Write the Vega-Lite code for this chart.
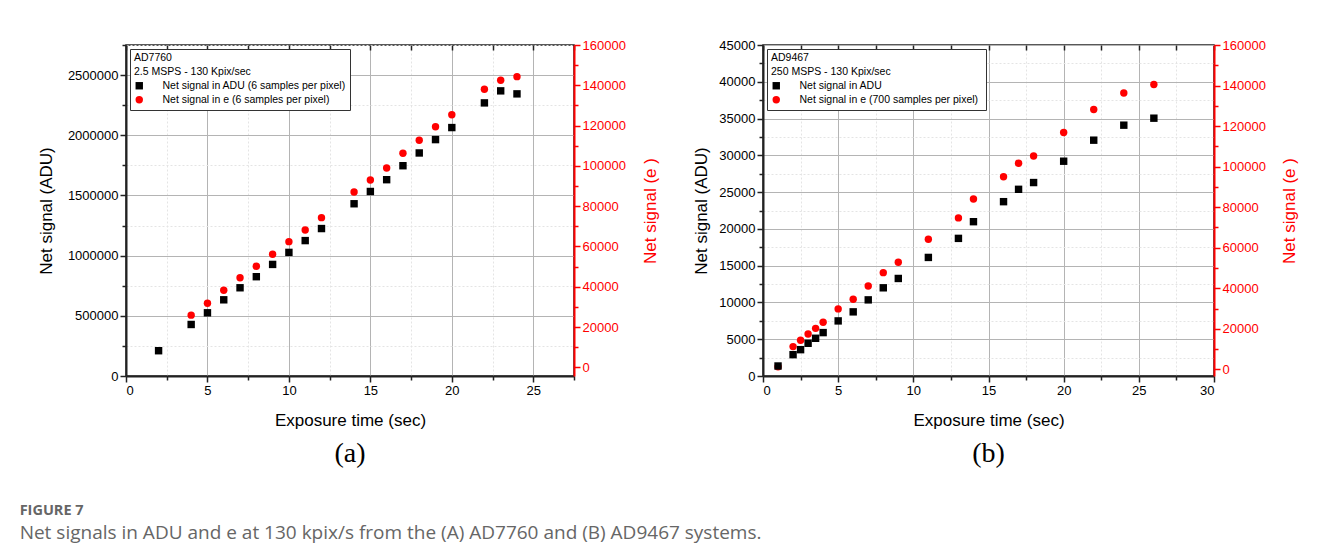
{
  "$schema": "https://vega.github.io/schema/vega-lite/v6.json",
  "padding": {"left": 19, "top": 38, "right": 0, "bottom": 0},
  "background": "white",
  "config": {
    "font": "Liberation Sans",
    "view": {"stroke": "#222222", "strokeWidth": 1.5},
    "axis": {"labelFontSize": 13, "titleFontSize": 17, "titleFontWeight": "normal", "labelColor": "black", "titleColor": "black", "domainColor": "#222222", "domainWidth": 2, "tickColor": "#222222", "tickWidth": 1.5},
    "legend": {"strokeColor": "#333333", "fillColor": "white", "padding": 4, "cornerRadius": 0, "titleFontWeight": "normal", "titleFontSize": 10.5, "titleColor": "black", "labelFontSize": 10.5, "labelColor": "black", "labelLimit": 400, "titleLimit": 400, "symbolSize": 55, "labelOffset": 18, "rowPadding": 3, "titlePadding": 3, "titleLineHeight": 14, "offset": 4, "symbolStrokeWidth": 0}
  },
  "title": {"text": "FIGURE 7", "subtitle": "Net signals in ADU and e at 130 kpix/s from the (A) AD7760 and (B) AD9467 systems.", "orient": "bottom", "anchor": "start", "font": "Open Sans", "fontSize": 14.5, "fontWeight": "bold", "color": "#666666", "subtitleFont": "Open Sans", "subtitleFontSize": 19, "subtitleColor": "#666666", "offset": 35, "dx": -17, "subtitlePadding": 6, "limit": 1200},
  "datasets": {
    "left": [
      {"t": 2, "series": "Net signal in ADU (6 samples per pixel)", "v": 210000},
      {"t": 4, "series": "Net signal in ADU (6 samples per pixel)", "v": 428000},
      {"t": 5, "series": "Net signal in ADU (6 samples per pixel)", "v": 525000},
      {"t": 6, "series": "Net signal in ADU (6 samples per pixel)", "v": 633000},
      {"t": 7, "series": "Net signal in ADU (6 samples per pixel)", "v": 733000},
      {"t": 8, "series": "Net signal in ADU (6 samples per pixel)", "v": 825000},
      {"t": 9, "series": "Net signal in ADU (6 samples per pixel)", "v": 927000},
      {"t": 10, "series": "Net signal in ADU (6 samples per pixel)", "v": 1027000},
      {"t": 11, "series": "Net signal in ADU (6 samples per pixel)", "v": 1125000},
      {"t": 12, "series": "Net signal in ADU (6 samples per pixel)", "v": 1225000},
      {"t": 14, "series": "Net signal in ADU (6 samples per pixel)", "v": 1431000},
      {"t": 15, "series": "Net signal in ADU (6 samples per pixel)", "v": 1533000},
      {"t": 16, "series": "Net signal in ADU (6 samples per pixel)", "v": 1631000},
      {"t": 17, "series": "Net signal in ADU (6 samples per pixel)", "v": 1747000},
      {"t": 18, "series": "Net signal in ADU (6 samples per pixel)", "v": 1853000},
      {"t": 19, "series": "Net signal in ADU (6 samples per pixel)", "v": 1964000},
      {"t": 20, "series": "Net signal in ADU (6 samples per pixel)", "v": 2064000},
      {"t": 22, "series": "Net signal in ADU (6 samples per pixel)", "v": 2269000},
      {"t": 23, "series": "Net signal in ADU (6 samples per pixel)", "v": 2369000},
      {"t": 24, "series": "Net signal in ADU (6 samples per pixel)", "v": 2344000},
      {"t": 4, "series": "Net signal in e  (6 samples per pixel)", "v": 25900},
      {"t": 5, "series": "Net signal in e  (6 samples per pixel)", "v": 31800},
      {"t": 6, "series": "Net signal in e  (6 samples per pixel)", "v": 38300},
      {"t": 7, "series": "Net signal in e  (6 samples per pixel)", "v": 44500},
      {"t": 8, "series": "Net signal in e  (6 samples per pixel)", "v": 50200},
      {"t": 9, "series": "Net signal in e  (6 samples per pixel)", "v": 56100},
      {"t": 10, "series": "Net signal in e  (6 samples per pixel)", "v": 62400},
      {"t": 11, "series": "Net signal in e  (6 samples per pixel)", "v": 68200},
      {"t": 12, "series": "Net signal in e  (6 samples per pixel)", "v": 74300},
      {"t": 14, "series": "Net signal in e  (6 samples per pixel)", "v": 87000},
      {"t": 15, "series": "Net signal in e  (6 samples per pixel)", "v": 93000},
      {"t": 16, "series": "Net signal in e  (6 samples per pixel)", "v": 98950},
      {"t": 17, "series": "Net signal in e  (6 samples per pixel)", "v": 106250},
      {"t": 18, "series": "Net signal in e  (6 samples per pixel)", "v": 112700},
      {"t": 19, "series": "Net signal in e  (6 samples per pixel)", "v": 119450},
      {"t": 20, "series": "Net signal in e  (6 samples per pixel)", "v": 125400},
      {"t": 22, "series": "Net signal in e  (6 samples per pixel)", "v": 138000},
      {"t": 23, "series": "Net signal in e  (6 samples per pixel)", "v": 142500},
      {"t": 24, "series": "Net signal in e  (6 samples per pixel)", "v": 144300}
    ],
    "right": [
      {"t": 1, "series": "Net signal in ADU", "v": 1360},
      {"t": 2, "series": "Net signal in ADU", "v": 2900},
      {"t": 2.5, "series": "Net signal in ADU", "v": 3580},
      {"t": 3, "series": "Net signal in ADU", "v": 4450},
      {"t": 3.5, "series": "Net signal in ADU", "v": 5130},
      {"t": 4, "series": "Net signal in ADU", "v": 5900},
      {"t": 5, "series": "Net signal in ADU", "v": 7490},
      {"t": 6, "series": "Net signal in ADU", "v": 8720},
      {"t": 7, "series": "Net signal in ADU", "v": 10350},
      {"t": 8, "series": "Net signal in ADU", "v": 11990},
      {"t": 9, "series": "Net signal in ADU", "v": 13260},
      {"t": 11, "series": "Net signal in ADU", "v": 16120},
      {"t": 13, "series": "Net signal in ADU", "v": 18710},
      {"t": 14, "series": "Net signal in ADU", "v": 20980},
      {"t": 16, "series": "Net signal in ADU", "v": 23700},
      {"t": 17, "series": "Net signal in ADU", "v": 25380},
      {"t": 18, "series": "Net signal in ADU", "v": 26300},
      {"t": 20, "series": "Net signal in ADU", "v": 29200},
      {"t": 22, "series": "Net signal in ADU", "v": 32060},
      {"t": 24, "series": "Net signal in ADU", "v": 34100},
      {"t": 26, "series": "Net signal in ADU", "v": 35050},
      {"t": 1, "series": "Net signal in e  (700 samples per pixel)", "v": 1300},
      {"t": 2, "series": "Net signal in e  (700 samples per pixel)", "v": 11200},
      {"t": 2.5, "series": "Net signal in e  (700 samples per pixel)", "v": 14300},
      {"t": 3, "series": "Net signal in e  (700 samples per pixel)", "v": 17400},
      {"t": 3.5, "series": "Net signal in e  (700 samples per pixel)", "v": 20200},
      {"t": 4, "series": "Net signal in e  (700 samples per pixel)", "v": 23200},
      {"t": 5, "series": "Net signal in e  (700 samples per pixel)", "v": 29800},
      {"t": 6, "series": "Net signal in e  (700 samples per pixel)", "v": 34600},
      {"t": 7, "series": "Net signal in e  (700 samples per pixel)", "v": 41100},
      {"t": 8, "series": "Net signal in e  (700 samples per pixel)", "v": 47700},
      {"t": 9, "series": "Net signal in e  (700 samples per pixel)", "v": 52800},
      {"t": 11, "series": "Net signal in e  (700 samples per pixel)", "v": 64200},
      {"t": 13, "series": "Net signal in e  (700 samples per pixel)", "v": 74700},
      {"t": 14, "series": "Net signal in e  (700 samples per pixel)", "v": 84000},
      {"t": 16, "series": "Net signal in e  (700 samples per pixel)", "v": 95000},
      {"t": 17, "series": "Net signal in e  (700 samples per pixel)", "v": 101700},
      {"t": 18, "series": "Net signal in e  (700 samples per pixel)", "v": 105200},
      {"t": 20, "series": "Net signal in e  (700 samples per pixel)", "v": 116800},
      {"t": 22, "series": "Net signal in e  (700 samples per pixel)", "v": 128200},
      {"t": 24, "series": "Net signal in e  (700 samples per pixel)", "v": 136300},
      {"t": 26, "series": "Net signal in e  (700 samples per pixel)", "v": 140500}
    ]
  },
  "hconcat": [
    {
      "width": 448,
      "height": 331,
      "data": {"name": "left"},
      "title": {"text": "(a)", "orient": "bottom", "font": "Liberation Serif", "fontSize": 28, "fontWeight": "normal", "color": "black", "offset": 12},
      "layer": [
        {
          "transform": [{"filter": {"field": "series", "equal": "Net signal in e  (6 samples per pixel)"}}],
          "mark": {"type": "point", "filled": true, "opacity": 1, "size": 55},
          "encoding": {
            "x": {"field": "t", "type": "quantitative", "scale": {"domain": [0, 27.5]}, "axis": {"orient": "top", "labels": false, "domain": false, "grid": false, "title": null, "values": [0, 2.5, 5, 7.5, 10, 12.5, 15, 17.5, 20, 22.5, 25, 27.5], "tickSize": -5}},
            "y": {"field": "v", "type": "quantitative", "scale": {"domain": [-4300, 160000]}, "axis": {"orient": "right", "title": "Net signal (e )", "titleAngle": 270, "titleBaseline": "top", "titlePadding": 17, "titleColor": "#ff0000", "labelColor": "#ff0000", "domainColor": "#ff0000", "tickColor": "#ff0000", "format": "d", "grid": false, "values": [0, 10000, 20000, 30000, 40000, 50000, 60000, 70000, 80000, 90000, 100000, 110000, 120000, 130000, 140000, 150000, 160000], "labelExpr": "datum.value % 20000 === 0 ? datum.label : ''", "tickSize": {"condition": {"test": "datum.value % 20000 === 0", "value": 6}, "value": 4}}},
            "color": {"field": "series", "type": "nominal", "scale": {"domain": ["Net signal in ADU (6 samples per pixel)", "Net signal in e  (6 samples per pixel)"], "range": ["#000000", "#ff0000"]}, "legend": {"orient": "top-left", "title": ["AD7760", "2.5 MSPS - 130 Kpix/sec"]}},
            "shape": {"field": "series", "type": "nominal", "scale": {"domain": ["Net signal in ADU (6 samples per pixel)", "Net signal in e  (6 samples per pixel)"], "range": ["square", "circle"]}, "legend": {"orient": "top-left", "title": ["AD7760", "2.5 MSPS - 130 Kpix/sec"]}}
          }
        },
        {
          "transform": [{"filter": {"field": "series", "equal": "Net signal in ADU (6 samples per pixel)"}}],
          "mark": {"type": "point", "filled": true, "opacity": 1, "size": 55},
          "encoding": {
            "x": {"field": "t", "type": "quantitative", "scale": {"domain": [0, 27.5]}, "axis": {"orient": "bottom", "title": "Exposure time (sec)", "titlePadding": 15, "grid": true, "values": [0, 2.5, 5, 7.5, 10, 12.5, 15, 17.5, 20, 22.5, 25, 27.5], "labelExpr": "datum.value % 5 === 0 ? datum.label : ''", "tickSize": {"condition": {"test": "datum.value % 5 === 0", "value": 6}, "value": 4}, "gridColor": {"condition": {"test": "datum.value % 5 === 0", "value": "#b4b4b4"}, "value": "#e4e4e4"}, "gridDash": {"condition": {"test": "datum.value % 5 === 0", "value": []}, "value": [2, 2]}}},
            "y": {"field": "v", "type": "quantitative", "scale": {"domain": [0, 2750000]}, "axis": {"orient": "left", "title": "Net signal (ADU)", "titlePadding": 12, "grid": true, "format": "d", "values": [0, 250000, 500000, 750000, 1000000, 1250000, 1500000, 1750000, 2000000, 2250000, 2500000, 2750000], "labelExpr": "datum.value % 500000 === 0 ? datum.label : ''", "tickSize": {"condition": {"test": "datum.value % 500000 === 0", "value": 6}, "value": 4}, "gridColor": {"condition": {"test": "datum.value % 500000 === 0", "value": "#b4b4b4"}, "value": "#e4e4e4"}, "gridDash": {"condition": {"test": "datum.value % 500000 === 0", "value": []}, "value": [2, 2]}}},
            "color": {"field": "series", "type": "nominal", "scale": {"domain": ["Net signal in ADU (6 samples per pixel)", "Net signal in e  (6 samples per pixel)"], "range": ["#000000", "#ff0000"]}, "legend": {"orient": "top-left", "title": ["AD7760", "2.5 MSPS - 130 Kpix/sec"]}},
            "shape": {"field": "series", "type": "nominal", "scale": {"domain": ["Net signal in ADU (6 samples per pixel)", "Net signal in e  (6 samples per pixel)"], "range": ["square", "circle"]}, "legend": {"orient": "top-left", "title": ["AD7760", "2.5 MSPS - 130 Kpix/sec"]}}
          }
        }
      ],
      "resolve": {"scale": {"y": "independent"}, "axis": {"x": "independent", "y": "independent"}}
    },
    {
      "width": 451,
      "height": 331,
      "data": {"name": "right"},
      "title": {"text": "(b)", "orient": "bottom", "font": "Liberation Serif", "fontSize": 28, "fontWeight": "normal", "color": "black", "offset": 12},
      "layer": [
        {
          "transform": [{"filter": {"field": "series", "equal": "Net signal in e  (700 samples per pixel)"}}],
          "mark": {"type": "point", "filled": true, "opacity": 1, "size": 55},
          "encoding": {
            "x": {"field": "t", "type": "quantitative", "scale": {"domain": [0, 30]}, "axis": {"orient": "top", "labels": false, "domain": false, "grid": false, "title": null, "values": [0, 2.5, 5, 7.5, 10, 12.5, 15, 17.5, 20, 22.5, 25, 27.5, 30], "tickSize": -5}},
            "y": {"field": "v", "type": "quantitative", "scale": {"domain": [-3300, 160000]}, "axis": {"orient": "right", "title": "Net signal (e )", "titleAngle": 270, "titleBaseline": "top", "titlePadding": 16, "titleColor": "#ff0000", "labelColor": "#ff0000", "domainColor": "#ff0000", "tickColor": "#ff0000", "format": "d", "grid": false, "values": [0, 10000, 20000, 30000, 40000, 50000, 60000, 70000, 80000, 90000, 100000, 110000, 120000, 130000, 140000, 150000, 160000], "labelExpr": "datum.value % 20000 === 0 ? datum.label : ''", "tickSize": {"condition": {"test": "datum.value % 20000 === 0", "value": 6}, "value": 4}}},
            "color": {"field": "series", "type": "nominal", "scale": {"domain": ["Net signal in ADU", "Net signal in e  (700 samples per pixel)"], "range": ["#000000", "#ff0000"]}, "legend": {"orient": "top-left", "title": ["AD9467", "250 MSPS - 130 Kpix/sec"]}},
            "shape": {"field": "series", "type": "nominal", "scale": {"domain": ["Net signal in ADU", "Net signal in e  (700 samples per pixel)"], "range": ["square", "circle"]}, "legend": {"orient": "top-left", "title": ["AD9467", "250 MSPS - 130 Kpix/sec"]}}
          }
        },
        {
          "transform": [{"filter": {"field": "series", "equal": "Net signal in ADU"}}],
          "mark": {"type": "point", "filled": true, "opacity": 1, "size": 55},
          "encoding": {
            "x": {"field": "t", "type": "quantitative", "scale": {"domain": [0, 30]}, "axis": {"orient": "bottom", "title": "Exposure time (sec)", "titlePadding": 15, "grid": true, "values": [0, 2.5, 5, 7.5, 10, 12.5, 15, 17.5, 20, 22.5, 25, 27.5, 30], "labelExpr": "datum.value % 5 === 0 ? datum.label : ''", "tickSize": {"condition": {"test": "datum.value % 5 === 0", "value": 6}, "value": 4}, "gridColor": {"condition": {"test": "datum.value % 5 === 0", "value": "#b4b4b4"}, "value": "#e4e4e4"}, "gridDash": {"condition": {"test": "datum.value % 5 === 0", "value": []}, "value": [2, 2]}}},
            "y": {"field": "v", "type": "quantitative", "scale": {"domain": [0, 45000]}, "axis": {"orient": "left", "title": "Net signal (ADU)", "titlePadding": 8, "grid": true, "format": "d", "values": [0, 2500, 5000, 7500, 10000, 12500, 15000, 17500, 20000, 22500, 25000, 27500, 30000, 32500, 35000, 37500, 40000, 42500, 45000], "labelExpr": "datum.value % 5000 === 0 ? datum.label : ''", "tickSize": {"condition": {"test": "datum.value % 5000 === 0", "value": 6}, "value": 4}, "gridColor": {"condition": {"test": "datum.value % 5000 === 0", "value": "#b4b4b4"}, "value": "#e4e4e4"}, "gridDash": {"condition": {"test": "datum.value % 5000 === 0", "value": []}, "value": [2, 2]}}},
            "color": {"field": "series", "type": "nominal", "scale": {"domain": ["Net signal in ADU", "Net signal in e  (700 samples per pixel)"], "range": ["#000000", "#ff0000"]}, "legend": {"orient": "top-left", "title": ["AD9467", "250 MSPS - 130 Kpix/sec"]}},
            "shape": {"field": "series", "type": "nominal", "scale": {"domain": ["Net signal in ADU", "Net signal in e  (700 samples per pixel)"], "range": ["square", "circle"]}, "legend": {"orient": "top-left", "title": ["AD9467", "250 MSPS - 130 Kpix/sec"]}}
          }
        }
      ],
      "resolve": {"scale": {"y": "independent"}, "axis": {"x": "independent", "y": "independent"}}
    }
  ],
  "spacing": 32,
  "resolve": {"scale": {"color": "independent", "shape": "independent"}, "legend": {"color": "independent", "shape": "independent"}}
}
